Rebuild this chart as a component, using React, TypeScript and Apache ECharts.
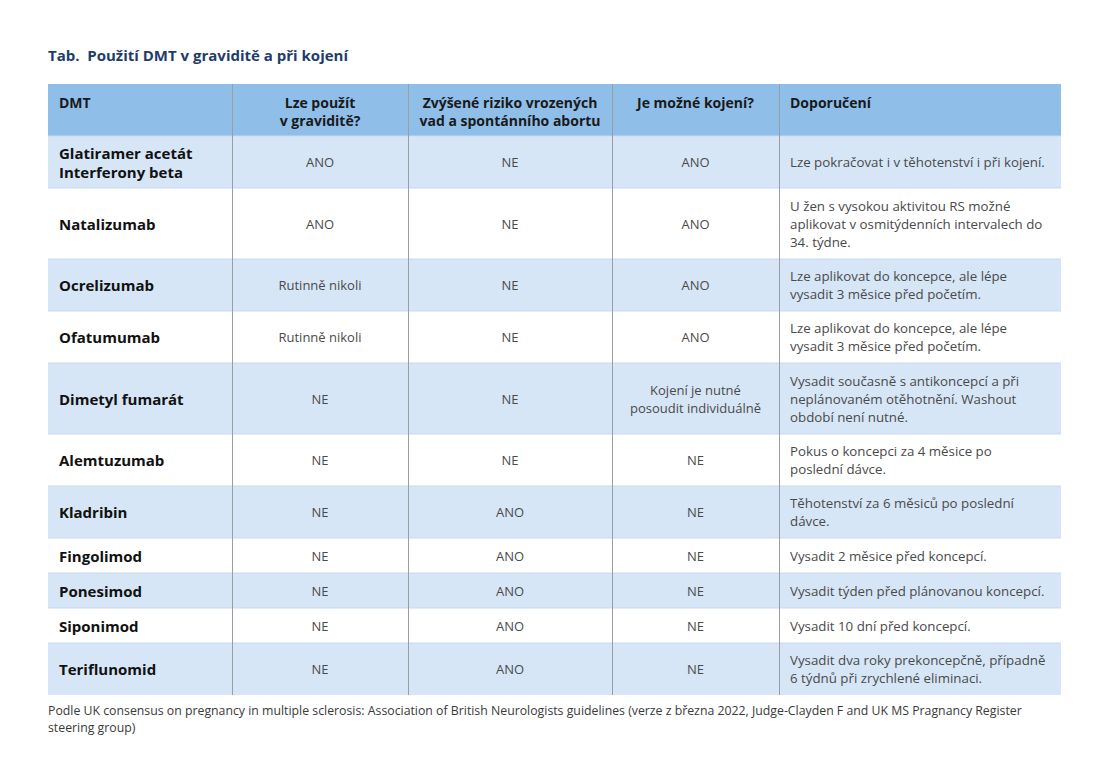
import React, { useEffect, useRef } from "react";
import * as echarts from "echarts";

const title = "Tab.  Použití DMT v graviditě a při kojení";
const headers = ["DMT", "Lze použít\nv graviditě?", "Zvýšené riziko vrozených\nvad a spontánního abortu", "Je možné kojení?", "Doporučení"];
const drugs = [
  "Glatiramer acetát\nInterferony beta",
  "Natalizumab",
  "Ocrelizumab",
  "Ofatumumab",
  "Dimetyl fumarát",
  "Alemtuzumab",
  "Kladribin",
  "Fingolimod",
  "Ponesimod",
  "Siponimod",
  "Teriflunomid",
];
const pregnancy = ["ANO", "ANO", "Rutinně nikoli", "Rutinně nikoli", "NE", "NE", "NE", "NE", "NE", "NE", "NE"];
const risk = ["NE", "NE", "NE", "NE", "NE", "NE", "ANO", "ANO", "ANO", "ANO", "ANO"];
const breastfeeding = ["ANO", "ANO", "ANO", "ANO", "Kojení je nutné\nposoudit individuálně", "NE", "NE", "NE", "NE", "NE", "NE"];
const recommendation = [
  "Lze pokračovat i v těhotenství i při kojení.",
  "U žen s vysokou aktivitou RS možné\naplikovat v osmitýdenních intervalech do\n34. týdne.",
  "Lze aplikovat do koncepce, ale lépe\nvysadit 3 měsice před početím.",
  "Lze aplikovat do koncepce, ale lépe\nvysadit 3 měsice před početím.",
  "Vysadit současně s antikoncepcí a při\nneplánovaném otěhotnění. Washout\nobdobí není nutné.",
  "Pokus o koncepci za 4 měsice po\nposlední dávce.",
  "Těhotenství za 6 měsiců po poslední\ndávce.",
  "Vysadit 2 měsice před koncepcí.",
  "Vysadit týden před plánovanou koncepcí.",
  "Vysadit 10 dní před koncepcí.",
  "Vysadit dva roky prekoncepčně, případně\n6 týdnů při zrychlené eliminaci.",
];
const footnote = "Podle UK consensus on pregnancy in multiple sclerosis: Association of British Neurologists guidelines (verze z března 2022, Judge-Clayden F and UK MS Pragnancy Register\nsteering group)";

const FONT = "'Open Sans', 'Noto Sans', sans-serif";

export default function App() {
  const ref = useRef<HTMLDivElement>(null);
  useEffect(() => {
    if (!ref.current) return;
    const chart = echarts.init(ref.current, undefined, { renderer: "svg" });
    const colX = [48, 232, 408, 612, 779, 1061];
    const headerTop = 84;
    const headerH = 52;
    const heightByLines = [0, 35, 52, 71];
    const lines = (s: string) => s.split("\n").length;
    const rowH = drugs.map((_, i) => {
      const n = Math.max(lines(drugs[i]), lines(pregnancy[i]), lines(risk[i]), lines(breastfeeding[i]), lines(recommendation[i]));
      return heightByLines[n];
    });
    const els: any[] = [];
    els.push({
      type: "text",
      style: { text: title, x: 48, y: 55, font: `bold 15px ${FONT}`, fill: "#1f3d6b", textVerticalAlign: "middle" },
    });
    els.push({ type: "rect", shape: { x: colX[0], y: headerTop, width: colX[5] - colX[0], height: headerH }, style: { fill: "#8fbfe9" } });
    headers.forEach((h, c) => {
      const left = c === 0 || c === 4;
      els.push({
        type: "text",
        style: {
          text: h,
          x: left ? colX[c] + 11 : (colX[c] + colX[c + 1]) / 2,
          y: 93,
          font: `bold 14px ${FONT}`,
          lineHeight: 18,
          fill: "#1a1a1a",
          textAlign: left ? "left" : "center",
          textVerticalAlign: "top",
        },
      });
    });
    let y = headerTop + headerH;
    const rowTops: number[] = [];
    drugs.forEach((d, i) => {
      const h = rowH[i];
      rowTops.push(y);
      const fill = i % 2 === 0 ? "#d6e6f7" : "#ffffff";
      els.push({ type: "rect", shape: { x: colX[0], y, width: colX[5] - colX[0], height: h }, style: { fill } });
      const cy = y + h / 2;
      els.push({
        type: "text",
        style: { text: d, x: colX[0] + 11, y: cy, font: `bold 15px ${FONT}`, lineHeight: 19, fill: "#111", textAlign: "left", textVerticalAlign: "middle" },
      });
      [pregnancy[i], risk[i], breastfeeding[i]].forEach((t, k) => {
        const c = k + 1;
        els.push({
          type: "text",
          style: { text: t, x: (colX[c] + colX[c + 1]) / 2, y: cy, font: `13px ${FONT}`, lineHeight: 18, fill: "#4a4a4a", textAlign: "center", textVerticalAlign: "middle" },
        });
      });
      els.push({
        type: "text",
        style: { text: recommendation[i], x: colX[4] + 11, y: cy, font: `13.3px ${FONT}`, lineHeight: 18, fill: "#4a4a4a", textAlign: "left", textVerticalAlign: "middle" },
      });
      y += h;
    });
    const tableBottom = y;
    rowTops.forEach((t) => {
      els.push({ type: "line", shape: { x1: colX[0], y1: t, x2: colX[5], y2: t }, style: { stroke: "#c9d9ea", lineWidth: 1 } });
    });
    for (let c = 1; c < 5; c++) {
      els.push({ type: "line", shape: { x1: colX[c] + 0.5, y1: headerTop, x2: colX[c] + 0.5, y2: tableBottom }, style: { stroke: "#9a9ea4", lineWidth: 1 } });
    }
    els.push({
      type: "text",
      style: { text: footnote, x: 48, y: 702, font: `12.3px ${FONT}`, lineHeight: 17, fill: "#3a3a3a", textAlign: "left", textVerticalAlign: "top" },
    });
    chart.setOption({ animation: false, backgroundColor: "#ffffff", graphic: { elements: els } });
    return () => chart.dispose();
  }, []);
  return <div ref={ref} style={{ position: "absolute", left: 0, top: 0, width: 1110, height: 784 }} />;
}
